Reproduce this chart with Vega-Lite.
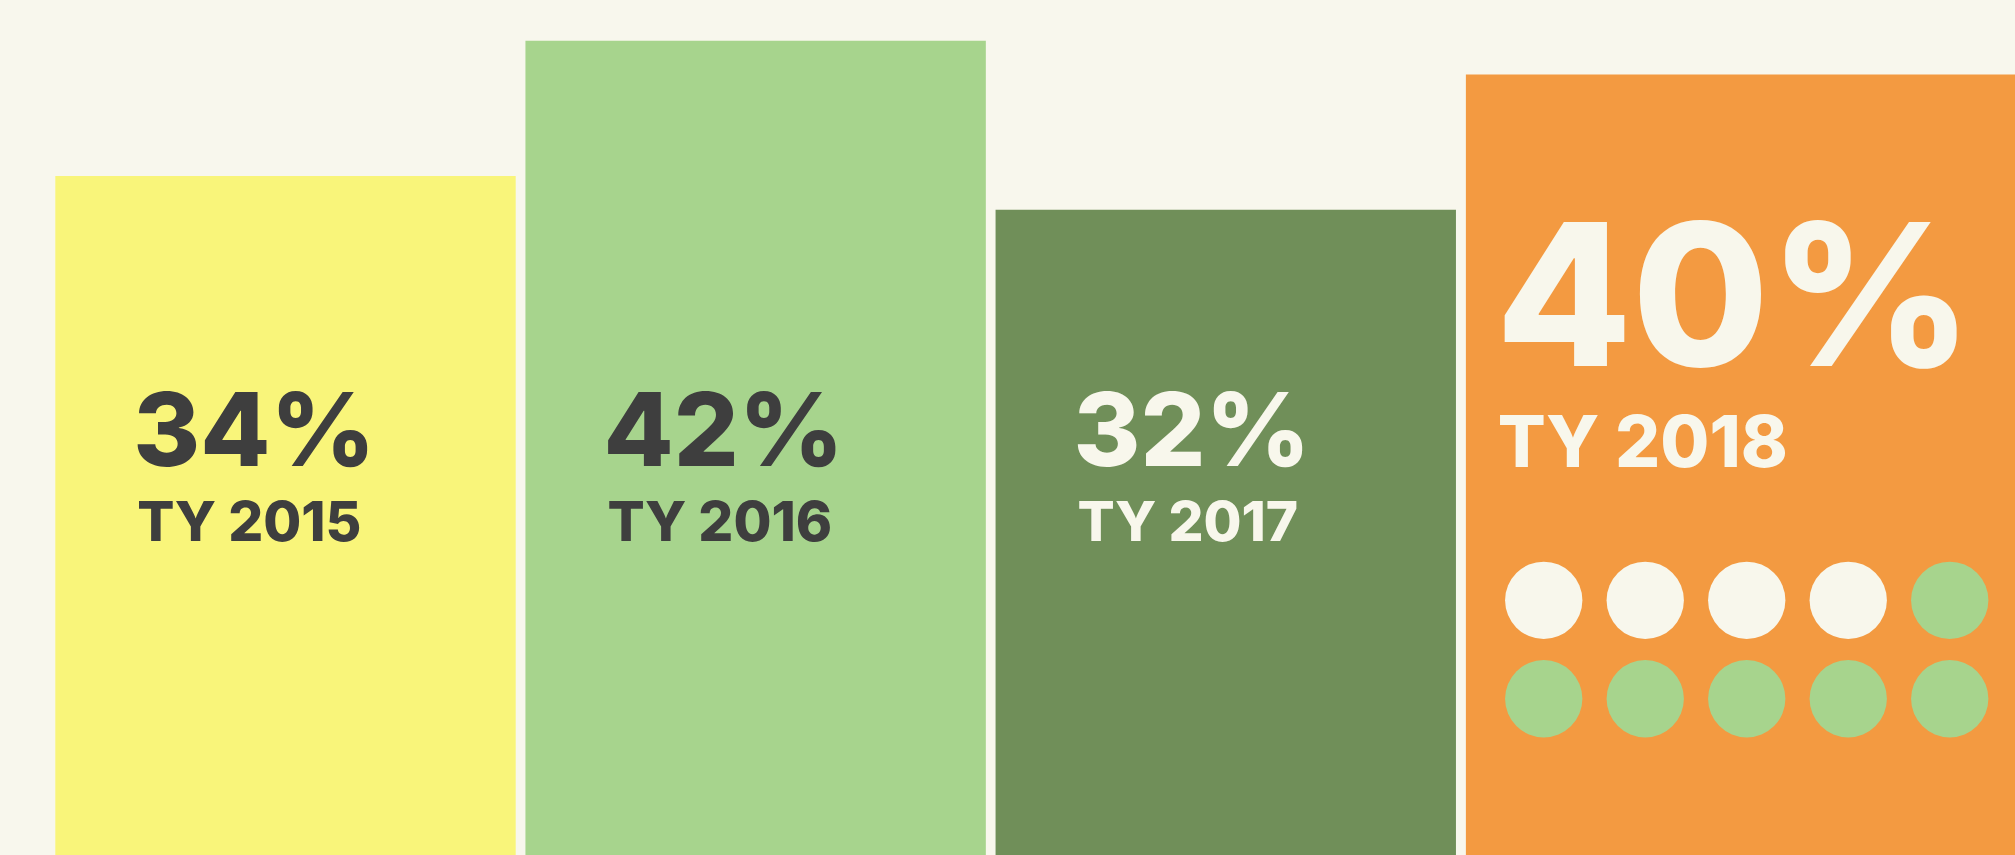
{
  "$schema": "https://vega.github.io/schema/vega-lite/v6.json",
  "width": 2015,
  "height": 855,
  "autosize": {"type": "none"},
  "padding": 0,
  "background": "#f8f7ed",
  "config": {"view": {"stroke": null}},
  "datasets": {
    "bars": [
      {"year": "2015", "value": 34, "label": "34%", "period": "TY 2015"},
      {"year": "2016", "value": 42, "label": "42%", "period": "TY 2016"},
      {"year": "2017", "value": 32, "label": "32%", "period": "TY 2017"},
      {"year": "2018", "value": 40, "label": "40%", "period": "TY 2018"}
    ],
    "dots": [
      {"col": 1, "row": 1, "filled": true},
      {"col": 2, "row": 1, "filled": true},
      {"col": 3, "row": 1, "filled": true},
      {"col": 4, "row": 1, "filled": true},
      {"col": 5, "row": 1, "filled": false},
      {"col": 1, "row": 2, "filled": false},
      {"col": 2, "row": 2, "filled": false},
      {"col": 3, "row": 2, "filled": false},
      {"col": 4, "row": 2, "filled": false},
      {"col": 5, "row": 2, "filled": false}
    ]
  },
  "layer": [
    {
      "data": {"name": "bars"},
      "encoding": {
        "x": {
          "field": "year", "type": "nominal", "axis": null,
          "scale": {"domain": ["2015", "2016", "2017", "2018"], "paddingInner": 0.0207, "paddingOuter": 0.1534, "align": 0.3835, "round": false}
        }
      },
      "layer": [
        {
          "transform": [{"filter": "datum.year !== '2018'"}],
          "mark": {"type": "bar", "clip": true},
          "encoding": {
            "y": {"field": "value", "type": "quantitative", "axis": null, "scale": {"domain": [-6.15, 44.41], "zero": false, "nice": false}},
            "y2": {"datum": -6.15},
            "color": {"field": "year", "type": "nominal", "legend": null,
              "scale": {"domain": ["2015", "2016", "2017", "2018"], "range": ["#f9f57a", "#a7d48d", "#708f59", "#f39a41"]}}
          }
        },
        {
          "transform": [{"filter": "datum.year === '2018'"}],
          "mark": {"type": "bar", "clip": true, "width": 1000, "xOffset": 270},
          "encoding": {
            "y": {"field": "value", "type": "quantitative"},
            "y2": {"datum": -6.15},
            "color": {"field": "year", "type": "nominal", "legend": null}
          }
        },
        {
          "transform": [{"filter": "datum.year !== '2018'"}],
          "mark": {"type": "text", "align": "left", "baseline": "alphabetic", "font": "Inter", "fontWeight": 800, "fontSize": 102, "dx": 78},
          "encoding": {
            "x": {"field": "year", "type": "nominal", "bandPosition": 0},
            "y": {"datum": 16.88},
            "text": {"field": "label"},
            "color": {"condition": {"test": "datum.year <= '2016'", "value": "#3e3e3e"}, "value": "#f8f7ec"}
          }
        },
        {
          "transform": [{"filter": "datum.year !== '2018'"}],
          "mark": {"type": "text", "align": "left", "baseline": "alphabetic", "font": "Inter", "fontWeight": 800, "fontSize": 55, "dx": 82},
          "encoding": {
            "x": {"field": "year", "type": "nominal", "bandPosition": 0},
            "y": {"datum": 12.44},
            "text": {"field": "period"},
            "color": {"condition": {"test": "datum.year <= '2016'", "value": "#3e3e3e"}, "value": "#f8f7ec"}
          }
        },
        {
          "transform": [{"filter": "datum.year === '2018'"}],
          "mark": {"type": "text", "align": "left", "baseline": "alphabetic", "font": "Inter", "fontWeight": 800, "fontSize": 198, "dx": 30, "color": "#f8f7ec"},
          "encoding": {
            "x": {"field": "year", "type": "nominal", "bandPosition": 0},
            "y": {"datum": 22.79},
            "text": {"field": "label"}
          }
        },
        {
          "transform": [{"filter": "datum.year === '2018'"}],
          "mark": {"type": "text", "align": "left", "baseline": "alphabetic", "font": "Inter", "fontWeight": 800, "fontSize": 71, "dx": 32, "color": "#f8f7ec"},
          "encoding": {
            "x": {"field": "year", "type": "nominal", "bandPosition": 0},
            "y": {"datum": 16.81},
            "text": {"field": "period"}
          }
        }
      ]
    },
    {
      "data": {"name": "dots"},
      "mark": {"type": "circle", "size": 5980, "opacity": 1},
      "encoding": {
        "x": {"field": "col", "type": "quantitative", "axis": null, "scale": {"domain": [-14.209, 5.643], "zero": false, "nice": false}},
        "y": {"field": "row", "type": "quantitative", "axis": null, "scale": {"domain": [-5.1006, 3.588], "zero": false, "nice": false, "reverse": true}},
        "color": {"condition": {"test": "datum.filled", "value": "#f8f7ec"}, "value": "#a7d48d"}
      }
    }
  ],
  "resolve": {"scale": {"x": "independent", "y": "independent", "color": "independent"}}
}
